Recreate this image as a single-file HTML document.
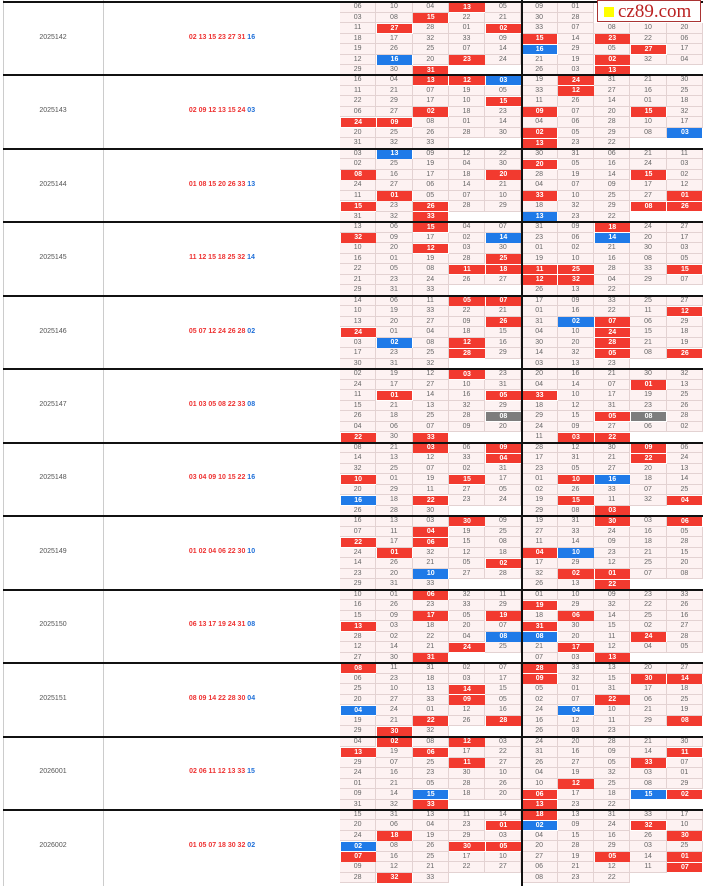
<!DOCTYPE html>
<html><head><meta charset="utf-8">
<style>
body{margin:0;width:703px;height:886px;background:#fff;position:relative;overflow:hidden;font-family:"Liberation Sans",sans-serif}
.c{position:absolute;font-size:7px;color:#666;text-align:center;box-sizing:border-box;line-height:10px}
.bg{background:#fdf2f2;border-right:1px solid #e3d2d2;border-bottom:1px solid #e3d2d2}
.r{background:#f23a2f;color:#fff;font-weight:bold}
.b{background:#1f7ae8;color:#fff;font-weight:bold}
.g{background:#7d7d7d;color:#fff;font-weight:bold}
.hl{position:absolute;left:3px;width:700px;height:2px;background:#111}
.lab{position:absolute;font-size:7px;text-align:center}
</style></head><body>
<div id="root"></div>
<div style="position:absolute;left:597px;top:0;width:104px;height:22px;background:#fff;border:1px solid #a33;box-sizing:border-box">
<div style="position:absolute;left:6px;top:6px;width:10px;height:10px;background:#ff0"></div>
<div style="position:absolute;left:20px;top:0;font-family:'Liberation Serif',serif;font-size:19px;color:#b22;line-height:21px">cz89.com</div></div>
<script>
const issues=["2025142","2025143","2025144","2025145","2025146","2025147","2025148","2025149","2025150","2025151","2026001","2026002"];
const reds=["02 13 15 23 27 31","02 09 12 13 15 24","01 08 15 20 26 33","11 12 15 18 25 32","05 07 12 24 26 28","01 03 05 08 22 33","03 04 09 10 15 22","01 02 04 06 22 30","06 13 17 19 24 31","08 09 14 22 28 30","02 06 11 12 13 33","01 05 07 18 30 32"];
const blues=["16","03","13","14","02","08","16","10","08","04","15","02"];
const grid=[
["06 10 04 r13 05 09 01 - - -","03 08 r15 22 21 30 28 - - -","11 r27 28 01 r02 33 07 08 10 20","18 17 32 33 09 r15 14 r23 22 06","19 26 25 07 14 b16 29 05 r27 17","12 b16 20 r23 24 21 19 r02 32 04","29 30 r31 - - 26 03 r13 - -"],
["16 04 r13 r12 b03 19 r24 31 21 30","11 21 07 19 05 33 r12 27 16 25","22 29 17 10 r15 11 26 14 01 18","06 27 r02 18 23 r09 07 20 r15 32","r24 r09 08 01 14 04 06 28 10 17","20 25 26 28 30 r02 05 29 08 b03","31 32 33 - - r13 23 22 - -"],
["03 b13 09 12 22 30 31 06 21 11","02 25 19 04 30 r20 05 16 24 03","r08 16 17 18 r20 28 19 14 r15 02","24 27 06 14 21 04 07 09 17 12","11 r01 05 07 10 r33 10 25 27 r01","r15 23 r26 28 29 18 32 29 r08 r26","31 32 r33 - - b13 23 22 - -"],
["13 06 r15 04 07 31 09 r18 24 27","r32 09 17 02 b14 23 06 b14 20 17","10 20 r12 03 30 01 02 21 30 03","16 01 19 28 r25 19 10 16 08 05","22 05 08 r11 r18 r11 r25 28 33 r15","21 23 24 26 27 r12 r32 04 29 07","29 31 33 - - 26 13 22 - -"],
["14 06 11 r05 r07 17 09 33 25 27","10 19 33 22 21 01 16 22 11 r12","13 20 27 09 r26 31 b02 r07 06 29","r24 01 04 18 15 04 10 r24 15 18","03 b02 08 r12 16 30 20 r28 21 19","17 23 25 r28 29 14 32 r05 08 r26","30 31 32 - - 03 13 23 - -"],
["02 19 12 r03 23 20 16 21 30 32","24 17 27 10 31 04 14 07 r01 13","11 r01 14 16 r05 r33 10 17 19 25","15 21 13 32 29 18 12 31 23 26","26 18 25 28 g08 29 15 r05 g08 28","04 06 07 09 20 24 09 27 06 02","r22 30 r33 - - 11 r03 r22 - -"],
["08 21 r03 06 r09 28 12 30 r09 06","14 13 12 33 r04 17 31 21 r22 24","32 25 07 02 31 23 05 27 20 13","r10 01 19 r15 17 01 r10 b16 18 14","20 29 11 27 05 02 26 33 07 25","b16 18 r22 23 24 19 r15 11 32 r04","26 28 30 - - 29 08 r03 - -"],
["16 13 03 r30 09 19 31 r30 03 r06","07 11 r04 19 25 27 33 24 16 05","r22 17 r06 15 08 11 14 09 18 28","24 r01 32 12 18 r04 b10 23 21 15","14 26 21 05 r02 17 29 12 25 20","23 20 b10 27 28 32 r02 r01 07 08","29 31 33 - - 26 13 r22 - -"],
["10 01 r06 32 11 01 10 09 23 33","16 26 23 33 29 r19 29 32 22 26","15 09 r17 05 r19 18 r06 14 25 16","r13 03 18 20 07 r31 30 15 02 27","28 02 22 04 b08 b08 20 11 r24 28","12 14 21 r24 25 21 r17 12 04 05","27 30 r31 - - 07 03 r13 - -"],
["r08 11 31 02 07 r28 33 13 20 27","06 23 18 03 17 r09 32 15 r30 r14","25 10 13 r14 15 05 01 31 17 18","20 27 33 r09 05 02 07 r22 06 25","b04 24 01 12 16 24 b04 10 21 19","19 21 r22 26 r28 16 12 11 29 r08","29 r30 32 - - 26 03 23 - -"],
["04 r02 08 r12 03 24 20 28 21 30","r13 19 r06 17 22 31 16 09 14 r11","29 07 25 r11 27 26 27 05 r33 07","24 16 23 30 10 04 19 32 03 01","01 21 05 28 26 10 r12 25 08 29","09 14 b15 18 20 r06 17 18 b15 r02","31 32 r33 - - r13 23 22 - -"],
["15 31 13 11 14 r18 13 31 33 17","20 06 04 23 r01 b02 09 24 r32 10","24 r18 19 29 03 04 15 16 26 r30","b02 08 26 r30 r05 20 28 29 03 25","r07 16 25 17 10 27 19 r05 14 r01","09 12 21 22 27 06 21 12 11 r07","28 r32 33 - - 08 23 22 - -"]];
const root=document.getElementById('root');
const X0=340,CW=36.3,Y0=2,BH=73.45,RH=10.5;
function add(html,style,cls){const d=document.createElement('div');d.className=cls;d.style.cssText=style;d.innerHTML=html;root.appendChild(d);return d;}
const lv=add('','position:absolute;left:3px;top:0;width:1px;height:886px;background:#ccc','');


const mv=add('','position:absolute;left:103px;top:0;width:1px;height:886px;background:#ccc','');


issues.forEach((iss,k)=>{
  const by=Y0+k*BH;
  const il=add(iss,`left:3px;top:${by+BH/2-5}px;width:100px;color:#555`,'lab');
  
  
  const dl=add(`<span style="color:#e33">${reds[k]}</span> <span style="color:#1f6fd8">${blues[k]}</span>`,`left:104px;top:${by+BH/2-5}px;width:236px;font-weight:bold`,'lab');
  
  
  grid[k].forEach((row,ri)=>{
    row.split(' ').forEach((t,ci)=>{
      const x=X0+ci*CW,y=by+ri*RH;
      let cls='c',txt=t;
      if(t==='-'){cls='c';txt='';}
      else if('rbg'.includes(t[0])){cls='c '+t[0];txt=t.slice(1);}
      else cls='c bg';
      const st=cls==='c bg'||txt===''?`left:${x}px;top:${y}px;width:${CW}px;height:${RH}px`:`left:${x+0.5}px;top:${y+0.5}px;width:${CW-1}px;height:${RH-1}px`;
      const d=add(txt,st,cls);
      
      
    });
  });
  const h=add('',`top:${by-1}px`,'hl');
  
  
});
const cv=add('','position:absolute;left:521px;top:0;width:1.5px;height:886px;background:#111','');


</script>
</body></html>
